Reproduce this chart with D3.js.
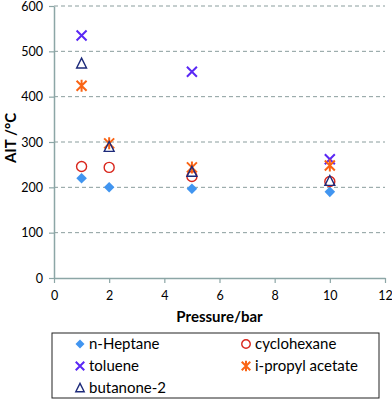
<!DOCTYPE html>
<html><head><meta charset="utf-8">
<script src="https://cdn.jsdelivr.net/npm/d3@7"></script>
<style>body{margin:0;background:#fff}svg{display:block}text{font-family:Lato,"Open Sans",sans-serif}</style>
</head><body><svg id="c" width="392" height="400"></svg>
<script>
const pressures = [1, 2, 5, 10];
const nHeptane = [220, 200, 197, 190];
const cyclohexane = [246, 244, 224, 213];
const toluene = [535, null, 455, 262];
const iPropylAcetate = [424, 297, 244, 248];
const butanone2 = [473, 289, 234, 214];
const xTicks = [0, 2, 4, 6, 8, 10, 12];
const yTicks = [0, 100, 200, 300, 400, 500, 600];

const series = [
  {name: "n-Heptane", values: nHeptane, shape: "diamond", color: "#4195f0"},
  {name: "cyclohexane", values: cyclohexane, shape: "circle", color: "#d9261c"},
  {name: "toluene", values: toluene, shape: "x", color: "#5a28f5"},
  {name: "i-propyl acetate", values: iPropylAcetate, shape: "star", color: "#fa6414"},
  {name: "butanone-2", values: butanone2, shape: "triangle", color: "#1d2a7a"}
];

const svg = d3.select("#c");
const x = d3.scaleLinear().domain([0, 12]).range([54, 385]);
const y = d3.scaleLinear().domain([0, 600]).range([278, 6]);
const axisCol = "#8ca6a6";

// grid
svg.append("g").selectAll("line").data(yTicks.filter(d => d > 0)).join("line")
  .attr("x1", x(0)).attr("x2", x(12)).attr("y1", d => y(d)).attr("y2", d => y(d))
  .attr("stroke", "#8a9d9d").attr("stroke-width", 1).attr("stroke-dasharray", "4,3");

const xa = svg.append("g").attr("transform", `translate(0,${y(0)})`)
  .call(d3.axisBottom(x).tickValues(xTicks).tickSize(5).tickSizeOuter(0).tickPadding(8));
const ya = svg.append("g").attr("transform", `translate(${x(0)},0)`)
  .call(d3.axisLeft(y).tickValues(yTicks).tickSize(5).tickSizeOuter(0).tickPadding(6));
[xa, ya].forEach(a => {
  a.select(".domain").attr("stroke", axisCol).attr("stroke-width", 1.5);
  a.selectAll(".tick line").attr("stroke", axisCol).attr("stroke-width", 1.2);
  a.selectAll(".tick text").attr("font-size", 12.5).attr("fill", "#000").style("font-family", "Lato, sans-serif");
});

svg.append("text").attr("x", x(6)).attr("y", 322).attr("text-anchor", "middle")
  .attr("font-size", 15).attr("font-weight", "bold").text("Pressure/bar");
svg.append("text").attr("transform", `translate(16,138) rotate(-90)`).attr("text-anchor", "middle")
  .attr("font-size", 15).attr("font-weight", "bold").text("AIT /°C");

function marker(g, shape, color, s) {
  s = s || 1;
  if (shape === "diamond") {
    g.append("path").attr("d", d3.symbol(d3.symbolSquare, 56 * s * s)()).attr("transform", "rotate(45)")
      .attr("fill", color);
  } else if (shape === "circle") {
    g.append("circle").attr("r", 5 * s).attr("fill", "none").attr("stroke", color).attr("stroke-width", 1.4);
  } else if (shape === "x") {
    const r = 5 * s;
    g.append("path").attr("d", `M${-r},${-r}L${r},${r}M${-r},${r}L${r},${-r}`)
      .attr("stroke", color).attr("stroke-width", 2);
  } else if (shape === "star") {
    const r = 5 * s;
    g.append("path").attr("d", `M${-r},${-r}L${r},${r}M${-r},${r}L${r},${-r}M0,${-r-1}L0,${r+1}`)
      .attr("stroke", color).attr("stroke-width", 2);
  } else if (shape === "triangle") {
    const r = 5.5 * s;
    g.append("path").attr("d", `M0,${-r}L${r*0.9},${r*0.8}L${-r*0.9},${r*0.8}Z`)
      .attr("fill", "none").attr("stroke", color).attr("stroke-width", 1.4);
  }
}

series.forEach(se => {
  se.values.forEach((v, i) => {
    if (v == null) return;
    const g = svg.append("g").attr("transform", `translate(${x(pressures[i])},${y(v)})`);
    marker(g, se.shape, se.color);
  });
});

// legend
svg.append("rect").attr("x", 52).attr("y", 333).attr("width", 327).attr("height", 65)
  .attr("fill", "none").attr("stroke", "#222").attr("stroke-width", 1);
const pos = [[80, 344], [246, 344], [80, 366], [246, 366], [80, 388]];
series.forEach((se, i) => {
  const g = svg.append("g").attr("transform", `translate(${pos[i][0]},${pos[i][1]})`);
  marker(g, se.shape, se.color, 0.85);
  g.append("text").attr("x", 9).attr("y", 5).attr("font-size", 15).text(se.name);
});
</script></body></html>
